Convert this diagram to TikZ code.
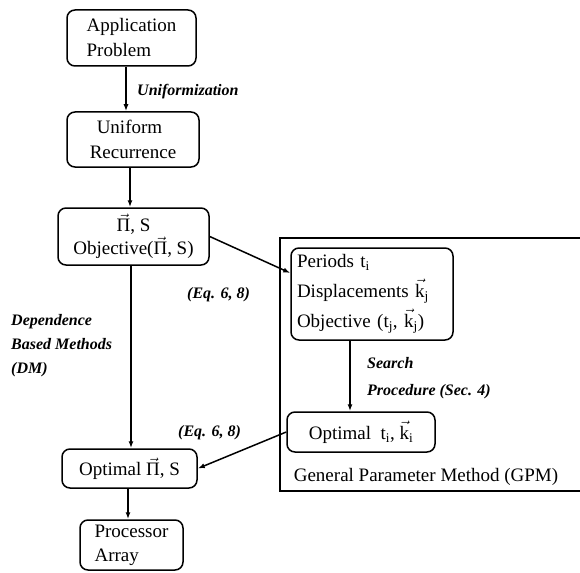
\RequirePackage{fix-cm}
\documentclass[tikz,border=0pt]{standalone}
\usepackage{fontspec}
\setmainfont{Liberation Serif}
\usetikzlibrary{arrows.meta}
\newcommand{\vPi}{\ensuremath{\vec{\mbox{Π}}}}
\newcommand{\vkk}[1]{\ensuremath{\vec{\mbox{k}}_{\mathrm{#1}}}}
\newcommand{\tsub}[1]{\ensuremath{\mathrm{t}_{\mathrm{#1}}}}
\tikzset{
  box/.style={draw, line width=1.5pt, rounded corners=8pt, inner sep=0pt, align=left,
              font=\fontsize{19}{25}\selectfont},
  arr/.style={line width=1.5pt, -{Latex[length=7pt,width=5pt]}},
  lbl/.style={font=\fontsize{16}{24}\selectfont\bfseries\itshape, inner sep=0pt, align=left},
  frame/.style={draw, line width=1.5pt, inner sep=0pt},
}
\begin{document}
\begin{tikzpicture}[x=1pt,y=-1pt]
\useasboundingbox (0,0) rectangle (580,572);
% GPM frame
\node[frame, anchor=north west, minimum width=330pt, minimum height=253pt] (gpm) at (279,237) {};
% boxes
\node[box, minimum width=129pt, minimum height=56pt] (app) at (131.5,38) {Application\\Problem};
\node[box, minimum width=132pt, minimum height=55pt] (uni) at (133,139.5) {\hspace*{7pt}Uniform\\Recurrence};
\node[box, align=center, minimum width=151pt, minimum height=57pt, font=\fontsize{19}{23}\selectfont] (pi) at (133.5,236.5) {\vPi, S\\Objective(\vPi, S)};
\node[box, text width=150pt, minimum width=162pt, minimum height=92pt, font=\fontsize{19}{30}\selectfont] (per) at (372,294) {Periods \tsub{i}\\Displacements \vkk{j}\\Objective (\tsub{j}, \vkk{j})};
\node[box, align=center, minimum width=148pt, minimum height=40pt] (optt) at (361,432) {Optimal \ \tsub{i}, \vkk{i}};
\node[box, align=center, minimum width=135pt, minimum height=39pt] (optpi) at (129.5,468.5) {Optimal \vPi, S};
\node[box, minimum width=103pt, minimum height=50pt, font=\fontsize{19}{24}\selectfont] (proc) at (131.5,545) {Processor\\Array};
\node[inner sep=0pt, font=\fontsize{19}{24}\selectfont] (gpmlbl) at (426,477) {General Parameter Method (GPM)};
% labels
\node[lbl, anchor=west] (unif) at (137,92) {Uniformization};
\node[lbl, anchor=west] (eqa) at (187,295) {(Eq. 6, 8)};
\node[lbl, anchor=west] (eqb) at (178,433) {(Eq. 6, 8)};
\node[lbl, anchor=west, font=\fontsize{16}{27}\selectfont\bfseries\itshape] (search) at (367,378.5) {Search\\Procedure (Sec. 4)};
\node[lbl, anchor=west, font=\fontsize{16}{24}\selectfont\bfseries\itshape] (dm) at (11,346) {Dependence\\Based Methods\\(DM)};
% connectors
\draw[arr] ([xshift=-5.5pt]app.south) -- ([xshift=-5.5pt]app.south |- uni.north);
\draw[arr] ([xshift=-3pt]uni.south) -- ([xshift=-3pt]uni.south |- pi.north);
\draw[arr] ([xshift=-2.5pt]pi.south) -- ([xshift=-2.5pt]pi.south |- optpi.north);
\draw[arr] ([xshift=-1.5pt]optpi.south) -- ([xshift=-1.5pt]optpi.south |- proc.north);
\draw[arr] ([xshift=-22pt]per.south) -- ([xshift=-22pt]per.south |- optt.north);
\draw[arr] (pi.east) -- ([yshift=21pt]per.west);
\draw[arr] (optt.west) -- (optpi.east);
\end{tikzpicture}
\end{document}
